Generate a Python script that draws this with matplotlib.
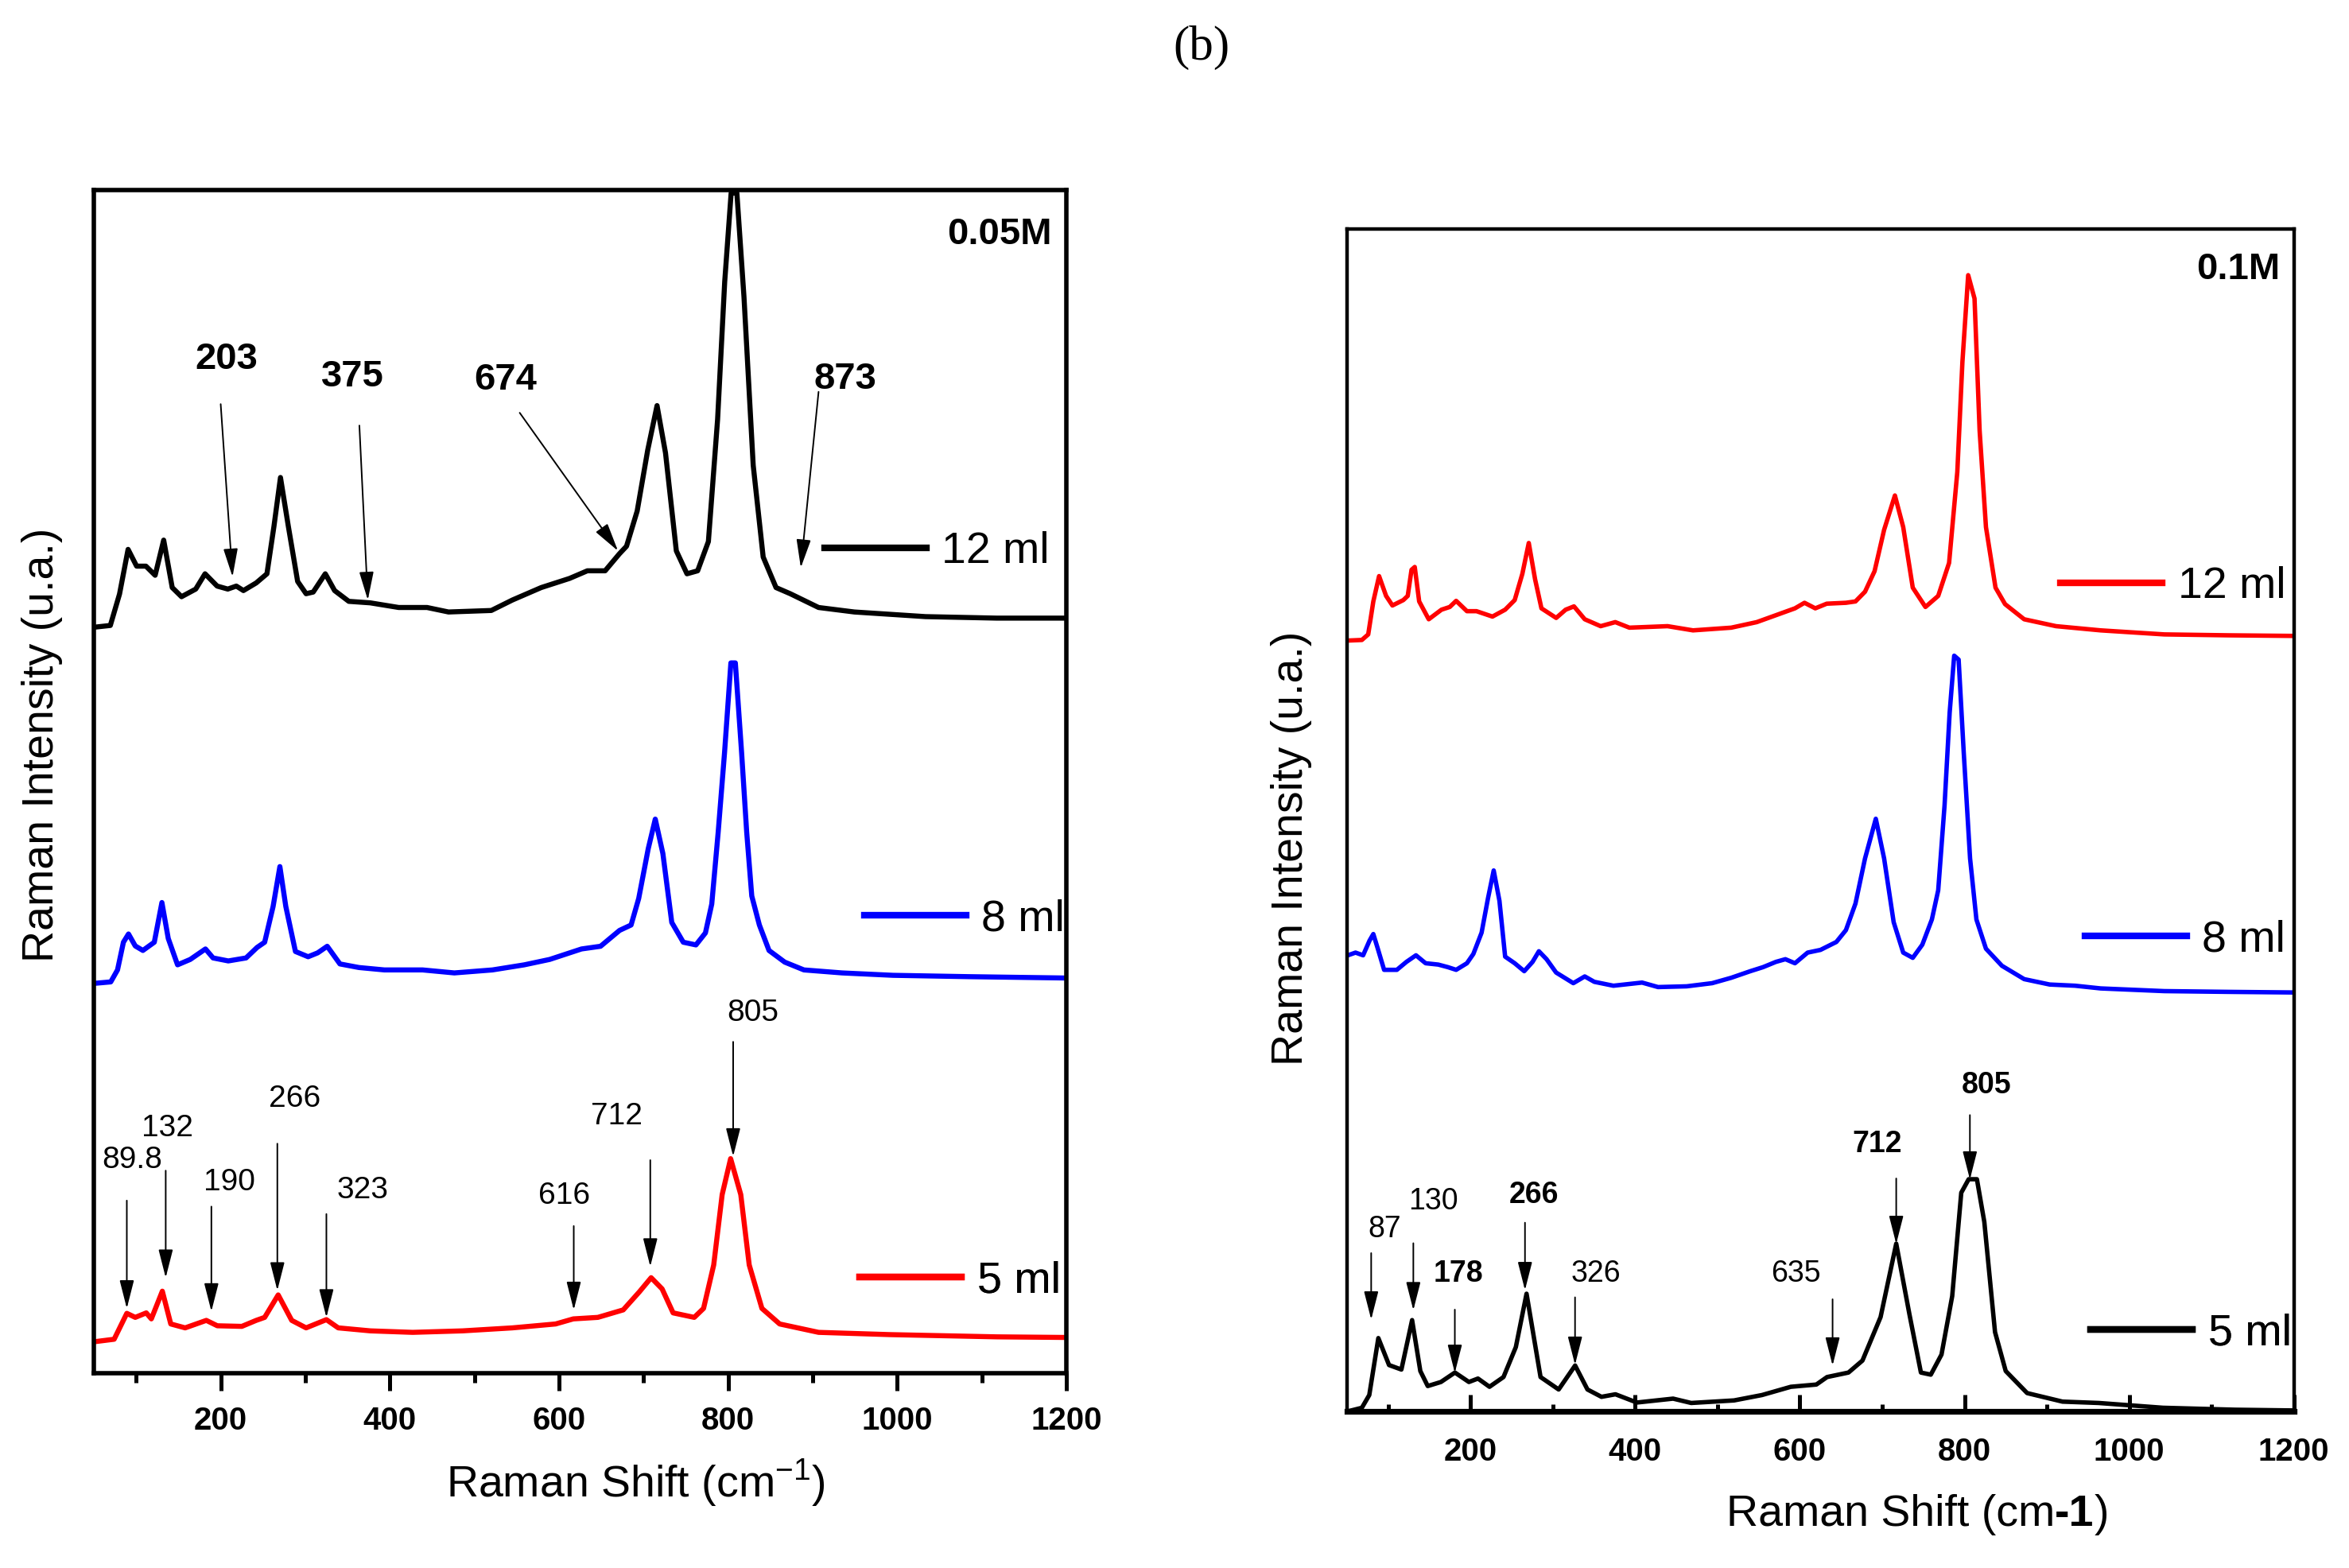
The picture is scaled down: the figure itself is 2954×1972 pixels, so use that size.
import numpy as np
import matplotlib
matplotlib.use("Agg")
import matplotlib.pyplot as plt
from matplotlib.offsetbox import TextArea, HPacker, AnnotationBbox

plt.rcParams['font.family'] = ['Liberation Sans', 'DejaVu Sans']
plt.rcParams['mathtext.fontset'] = 'custom'
plt.rcParams['mathtext.rm'] = 'Liberation Sans'
plt.rcParams['mathtext.bf'] = 'Liberation Sans:bold'

# ---- data (x: Raman shift in cm-1, y: offset intensity, a.u.) ----
# left panel, 0.05M
left_12_x = [50, 69.5, 80.4, 90.5, 100.6, 111.6, 122.5, 132.6, 142.7, 153.7, 170.5, 181.5, 195.8,
             208.4, 218.5, 226.9, 242, 254.7, 263, 270.7, 280, 291, 301, 309.4, 323.7, 334.7,
             351.5, 376.8, 410.5, 444, 469.4, 520, 545, 579, 612.5, 633.6, 654.6, 671.4, 679.9,
             692.5, 705, 716, 726, 738.8, 751.4, 764, 776.7, 787.6, 796, 803.6, 810.4, 818.8,
             829.7, 841.5, 856.7, 873.5, 907, 949.3, 1033.5, 1117.7, 1200]
left_12_y = [497.8, 499, 520, 549.8, 538.6, 538.6, 532.5, 556, 524.3, 518.2, 523.3, 533.5, 525.3,
             523.3, 525.3, 522.3, 527.4, 533.5, 565.2, 597.8, 565.2, 528.4, 520.2, 521.3, 533.5, 522.3,
             515.1, 514.1, 511, 511, 508, 509, 516, 524.3, 530.4, 535.5, 535.5, 546.8, 551.9,
             575.4, 616.2, 645.8, 614.2, 548.8, 533.5, 535.5, 555, 636.6, 728.5, 787.7, 787.7, 718.3,
             606, 544.7, 524.3, 520.2, 511, 508, 504.9, 503.9, 503.9]

left_8_x = [50, 70, 78, 85, 91, 99, 108, 121.5, 130.5, 138, 149, 164, 182, 191, 209, 230, 243, 252,
            262, 270, 277, 288.4, 303.4, 314.7, 326, 341, 363.5, 393.6, 438.7, 476.3, 521.4, 559,
            589, 626.7, 649.2, 671.7, 685.3, 694.3, 705.6, 713.9, 722.9, 733.4, 747, 762, 773.2,
            780.7, 788.3, 795.8, 803.3, 808.6, 816, 822, 828, 837, 848.4, 867, 889.7, 934.8, 995,
            1085, 1200]
left_8_y = [260, 261, 269, 287.5, 293, 285, 282, 287.5, 314, 290, 272.4, 276, 283, 277, 275, 277, 284,
            287.5, 311.4, 338, 311.4, 281.3, 277.8, 280.4, 284.8, 273, 270.6, 269, 269, 267, 269, 272.4,
            276, 283, 284.8, 295.4, 299, 316.7, 350, 369.7, 346.7, 300.7, 287.5, 285.7, 293.7,
            313, 361, 414, 474, 474, 414, 361, 318.4, 299, 282, 274.2, 269, 267, 265.4,
            264.5, 263.6]

left_5_x = [50, 74, 89, 99, 112, 118, 131, 141, 158, 183, 196, 225, 242, 252, 268, 284, 301, 325, 339,
            377, 427, 486, 545, 596, 617, 646, 676, 695, 709, 722, 735, 760, 771, 783, 793, 803,
            815, 825, 840, 861, 907, 991, 1118, 1200]
left_5_y = [20.7, 22.4, 39.7, 37, 40, 36, 54.5, 32.6, 30, 35, 31.4, 31, 35, 37, 52, 35, 30, 35.5, 30,
            28, 27, 28, 30, 32.6, 36, 37, 42, 54, 63.5, 56, 40, 37, 43, 72, 119, 143,
            119, 72, 43, 32.6, 27, 25.5, 24, 23.6]

# right panel, 0.1M
right_12_x = [51, 68, 75.7, 81.9, 88.9, 97.4, 105.1, 118.3, 123.7, 128.3, 132.2, 137.6, 149.2, 164.7,
              174.7, 182.5, 195.6, 207.2, 226.6, 242, 253.6, 262.9, 270.7, 278.4, 286.1, 304, 315.5,
              325.6, 338.7, 358, 375.8, 392.9, 439.3, 470.2, 516.6, 547.6, 570.8, 594, 605.6, 618.7,
              632.6, 655.9, 667.5, 679.1, 690.7, 702.3, 715.4, 725.5, 737.1, 752.5, 768, 781.2,
              791.2, 797.4, 804.4, 812.1, 818.3, 826, 837.6, 849.2, 872.4, 911.1, 965.3, 1042.6,
              1119.9, 1200]
right_12_y = [514.4, 514.8, 518.5, 540.5, 557.4, 544.2, 537.8, 541.4, 544.2, 561.6, 563.5, 540.5, 528.6, 535,
              536.8, 540.9, 534, 534, 530.4, 535, 541.4, 558.9, 579.5, 555.2, 535.9, 529.5, 535,
              537.2, 528.6, 524, 526.7, 523, 524, 521.2, 523, 526.7, 531.3, 535.9, 539.6, 535.9,
              539, 539.6, 540.5, 547, 560.7, 588.3, 611.2, 590.1, 549.7, 536.8, 544.2, 566.2,
              626.9, 700.3, 758.2, 742.6, 654.4, 590.1, 549.7, 538.7, 528.6, 524, 521.2, 518.5,
              517.9, 517.5]

right_8_x = [51, 60.3, 69.5, 77.3, 81.9, 87.3, 95, 110.5, 122.1, 133.7, 145.4, 160.8, 172.4, 182.5,
             195.6, 203.4, 213.4, 221.2, 228.1, 235.1, 242, 253.6, 265.2, 275.3, 283, 292.3, 303.9,
             324.8, 338.7, 350.3, 373.5, 408.3, 427.7, 462.5, 493.4, 516.6, 539.8, 555.3, 570.8,
             582.4, 594, 609.4, 625, 644.3, 655.9, 667.5, 679.1, 692.2, 702.3, 713.9, 725.5, 737.1,
             748.7, 760.3, 768, 775.7, 781.9, 787.4, 792.8, 799, 806.7, 814.4, 826, 845.4, 872.4,
             903.4, 934.3, 965.3, 1042.6, 1119.9, 1200]
right_8_y = [304.4, 306.2, 304.4, 314.2, 318.6, 308.9, 294.7, 294.7, 300, 304.4, 299.1, 298.2, 296.5, 294.7,
             299.1, 305.3, 319.5, 342.5, 361, 340.7, 303.5, 299.1, 293.8, 300, 307.1, 301.8, 292.9,
             285.8, 290.3, 286.7, 284.1, 286.2, 283.2, 283.7, 285.8, 289.4, 293.8, 296.5, 300,
             301.8, 299.1, 306.2, 308, 313.3, 321.2, 338.9, 369, 395.5, 369, 326.5, 306.2, 302.7,
             311.5, 328.3, 347.8, 404.4, 466.3, 504.3, 501.7, 439.7, 369, 328.3, 308.8, 297.4, 288.5,
             284.9, 284.1, 282.3, 280.5, 280, 279.6]

right_5_x = [50, 68, 77, 88, 101, 116, 129, 139, 148, 164, 181, 198, 209, 223, 240, 255, 268, 285, 307,
             327, 342, 359, 376, 402, 446, 468, 520, 554, 589, 620, 633, 659, 676, 698, 717, 733,
             747, 759, 772, 785, 796, 805, 815, 824, 837, 850, 876, 919, 963, 1041, 1128, 1200]
right_5_y = [0, 2.5, 11, 49, 31, 28, 61, 27, 17, 19.7, 26, 19.7, 22, 16.5, 23, 43, 78.6, 23, 14.7,
             30.7, 14.7, 9.8, 11.5, 6, 8.6, 5.7, 7.4, 11, 16.5, 18, 23, 26, 34, 63, 112, 65,
             26, 24.6, 38, 77, 146, 155, 155, 126.5, 53, 27, 12.3, 6.6, 5.7, 2.5, 1.2, 0.7]

# peak labels: text, label x, label y, arrow x tail, y tail, x tip, y tip
left_red_peaks = [("89.8", 95, 142, 89, 115, 89, 43),
                  ("132", 137, 163, 135, 135, 135, 63.5),
                  ("190", 210, 127, 189, 111, 189, 41),
                  ("266", 288, 183, 267, 153, 267, 55),
                  ("323", 368, 122, 325, 106, 325, 37),
                  ("616", 606, 118, 617.5, 98, 617.5, 42),
                  ("712", 668, 171, 708, 142, 708, 71),
                  ("805", 829, 240, 806, 221, 806, 144.5)]
left_black_peaks = [("203", 206.7, 676.5, 200, 646.8, 214, 531.5),
                    ("375", 355.7, 664.8, 364, 632.5, 374, 516),
                    ("674", 536.7, 662.8, 553.6, 641, 669.8, 548.8),
                    ("873", 938.3, 663.6, 907, 655, 886, 537.6)]
right_black_peaks = [("87", 95.8, 121.6, 79.3, 105.7, 79.3, 61.4, 'normal'),
                     ("130", 154.9, 140, 130.5, 112.3, 130.5, 67.6, 'normal'),
                     ("178", 185.3, 92.1, 180.9, 68, 180.9, 25.8, 'bold'),
                     ("266", 276.5, 144.2, 266.1, 126, 266.1, 81, 'bold'),
                     ("326", 352.1, 92.1, 326.9, 76.2, 326.9, 31.2, 'normal'),
                     ("635", 595.4, 92.1, 639.7, 74.9, 639.7, 30.7, 'normal'),
                     ("712", 693.5, 178.1, 717, 155.5, 717, 111.8, 'bold'),
                     ("805", 826.4, 217.4, 806.5, 197.8, 806.5, 154.8, 'bold')]

W, H = 2954, 1972
fig = plt.figure(figsize=(W / 200, H / 200), dpi=200)

arrow_kw = dict(arrowstyle='-|>,head_length=1.1,head_width=0.28', lw=0.7, color='black',
                shrinkA=0, shrinkB=0, mutation_scale=10)


def add_key(ax, line, label, x_right, y):
    leg = ax.legend([line], [label], loc='center right', bbox_to_anchor=(x_right, y),
                    bbox_transform=ax.transData, frameon=False, fontsize=20,
                    handlelength=2.3, handletextpad=0.35, borderpad=0, borderaxespad=0)
    leg.get_lines()[0].set_linewidth(3)
    ax.add_artist(leg)


def draw_arrow(ax, xt, yt, xh, yh):
    ax.annotate('', xy=(xh, yh), xytext=(xt, yt), arrowprops=arrow_kw)


# ---------------- left panel ----------------
ax1 = fig.add_axes([118 / W, 1 - 1726.5 / H, 1223 / W, 1488 / H])
l12, = ax1.plot(left_12_x, left_12_y, color='black', lw=2.3)
l8, = ax1.plot(left_8_x, left_8_y, color='#0000ff', lw=2.3)
l5, = ax1.plot(left_5_x, left_5_y, color='#ff0000', lw=2.3)
ax1.set_xlim(50, 1200)
ax1.set_ylim(0, 790)
ax1.set_yticks([])
ax1.set_xticks(np.arange(200, 1201, 200))
ax1.set_xticks(np.arange(100, 1200, 200), minor=True)
ax1.tick_params(axis='x', which='major', direction='out', length=8, width=1.8, pad=7, labelsize=14.5)
ax1.tick_params(axis='x', which='minor', direction='out', length=4.2, width=1.8)
for lab in ax1.get_xticklabels():
    lab.set_fontweight('bold')
for sp in ax1.spines.values():
    sp.set_linewidth(2.0)

for txt, lx, ly, xt, yt, xh, yh in left_red_peaks:
    ax1.text(lx, ly, txt, ha='center', va='center', fontsize=14)
    draw_arrow(ax1, xt, yt, xh, yh)
for txt, lx, ly, xt, yt, xh, yh in left_black_peaks:
    ax1.text(lx, ly, txt, ha='center', va='center', fontsize=17, fontweight='bold')
    draw_arrow(ax1, xt, yt, xh, yh)

ax1.text(1183, 760, "0.05M", ha='right', va='center', fontsize=17, fontweight='bold')
add_key(ax1, l12, "12 ml", 1180, 548)
add_key(ax1, l8, "8 ml", 1198, 302.5)
add_key(ax1, l5, "5 ml", 1193, 61)

ax1.set_xlabel(r"Raman Shift (cm$^{-1}$)", fontsize=20)
ax1.xaxis.set_label_coords(0.557, -0.093)
ax1.xaxis.label.set_verticalalignment('center')
ax1.set_ylabel("Raman Intensity (u.a.)", fontsize=20)
ax1.yaxis.set_label_coords(-0.053, 0.531)
ax1.yaxis.label.set_verticalalignment('center')

# ---------------- right panel ----------------
ax2 = fig.add_axes([1694 / W, 1 - 1775.2 / H, 1190.7 / W, 1487.2 / H])
r12, = ax2.plot(right_12_x, right_12_y, color='#ff0000', lw=2.0)
r8, = ax2.plot(right_8_x, right_8_y, color='#0000ff', lw=2.0)
r5, = ax2.plot(right_5_x, right_5_y, color='black', lw=2.0)
ax2.set_xlim(50, 1200)
ax2.set_ylim(0, 789)
ax2.set_yticks([])
ax2.set_xticks(np.arange(200, 1201, 200))
ax2.set_xticks(np.arange(100, 1200, 200), minor=True)
ax2.tick_params(axis='x', which='major', direction='in', length=7.5, width=1.8, pad=11.5, labelsize=14.5)
ax2.tick_params(axis='x', which='minor', direction='in', length=3.3, width=1.8)
for lab in ax2.get_xticklabels():
    lab.set_fontweight('bold')
for sp in ax2.spines.values():
    sp.set_linewidth(1.6)
ax2.spines['bottom'].set_linewidth(2.6)

for txt, lx, ly, xt, yt, xh, yh, fw in right_black_peaks:
    ax2.text(lx, ly, txt, ha='center', va='center', fontsize=13.5, fontweight=fw)
    draw_arrow(ax2, xt, yt, xh, yh)

ax2.text(1183, 762, "0.1M", ha='right', va='center', fontsize=17, fontweight='bold')
add_key(ax2, r12, "12 ml", 1190, 550)
add_key(ax2, r8, "8 ml", 1190, 314.5)
add_key(ax2, r5, "5 ml", 1197, 51.6)

# x label with a bold "-1", as in the original
parts = [TextArea("Raman Shift (cm", textprops=dict(fontsize=20)),
         TextArea("-1", textprops=dict(fontsize=20, fontweight='bold')),
         TextArea(")", textprops=dict(fontsize=20))]
xlab = HPacker(children=parts, align='baseline', pad=0, sep=0)
ax2.add_artist(AnnotationBbox(xlab, (0.6026, -0.087), xycoords='axes fraction',
                              frameon=False, box_alignment=(0.5, 0.5), annotation_clip=False))
ax2.set_ylabel("Raman Intensity (u.a.)", fontsize=20)
ax2.yaxis.set_label_coords(-0.0588, 0.476)
ax2.yaxis.label.set_verticalalignment('center')

fig.text(1510.7 / W, 1 - 60 / H, "(b)", ha='center', va='center', fontsize=22,
         family=['Liberation Serif', 'DejaVu Serif'])

fig.savefig("out.png", dpi=200)
